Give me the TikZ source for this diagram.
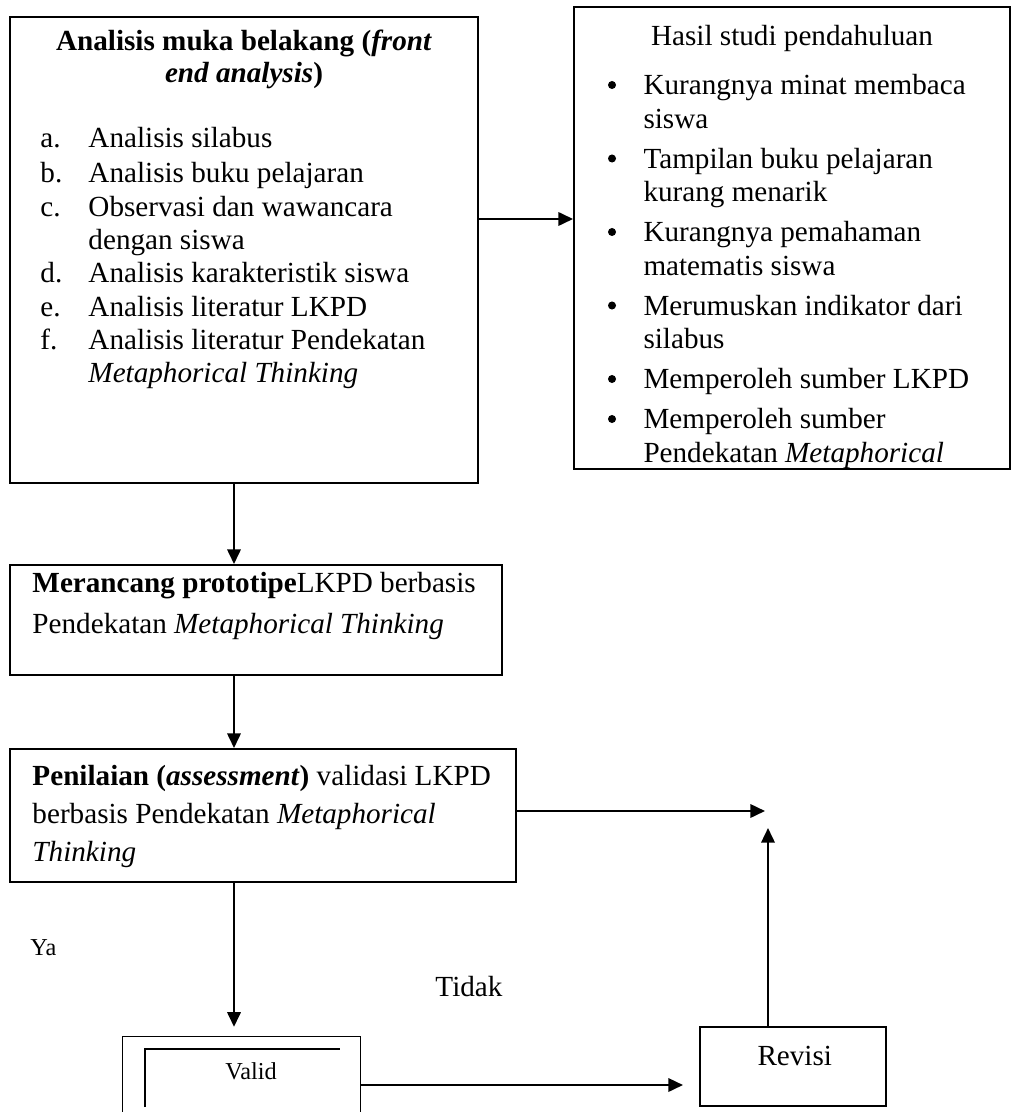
\documentclass[tikz,border=0pt]{standalone}
\usepackage{fontspec}
\setmainfont{Liberation Serif}
\usetikzlibrary{arrows.meta,fit}
\begin{document}
\begin{tikzpicture}[x=0.41152pt, y=-0.41152pt,
  box/.style={draw, line width=0.8pt, inner sep=0pt},
  hid/.style={inner sep=0pt},
  arr/.style={line width=0.9pt, -{Triangle[length=6pt,width=5.5pt]}},
  ln/.style={line width=0.8pt},
  t/.style={anchor=base west, inner sep=0pt, font=\fontsize{12}{14}\selectfont},
  tc/.style={anchor=base, inner sep=0pt, font=\fontsize{12}{14}\selectfont},
  ts/.style={anchor=base west, inner sep=0pt, font=\fontsize{10}{12}\selectfont},
  dot/.style={circle, fill, inner sep=0pt, minimum size=3.3pt}]
\useasboundingbox (0,0) rectangle (1013,1112);
% ---- boxes
\coordinate (a1) at (10,17);   \coordinate (a2) at (478,483);
\coordinate (h1) at (574,7);   \coordinate (h2) at (1010,469);
\coordinate (m1) at (10,565);  \coordinate (m2) at (502,675);
\coordinate (p1) at (10,749);  \coordinate (p2) at (516,882);
\coordinate (r1) at (700,1027);\coordinate (r2) at (886,1106);
\coordinate (v1) at (123,1037);\coordinate (v2) at (360,1112);
\node[box, fit=(a1)(a2)] (A) {};
\node[box, fit=(h1)(h2)] (H) {};
\node[box, fit=(m1)(m2)] (M) {};
\node[box, fit=(p1)(p2)] (P) {};
\node[box, fit=(r1)(r2)] (R) {};
\node[hid, fit=(v1)(v2)] (V) {};
\draw[ln] (V.south west) -- (V.north west) -- (V.north east) -- (V.south east);
\draw[ln] (145,1107) -- (145,1049) -- (340,1049);
% ---- left box text
\node[tc] (a0) at (244,51) {\textbf{Analisis muka belakang (\textit{front}}};
\node[tc] (a00) at (244,83) {\textbf{\textit{end analysis})}};
\node[t] (la) at (40,148) {a.}; \node[t] (ta) at (88,148) {Analisis silabus};
\node[t] (lb) at (40,183) {b.}; \node[t] (tb) at (88,183) {Analisis buku pelajaran};
\node[t] (lc) at (40,217) {c.}; \node[t] (tc1) at (88,217) {Observasi dan wawancara};
\node[t] (tc2) at (88,250) {dengan siswa};
\node[t] (ld) at (40,283) {d.}; \node[t] (td) at (88,283) {Analisis karakteristik siswa};
\node[t] (le) at (40,317) {e.}; \node[t] (te) at (88,317) {Analisis literatur LKPD};
\node[t] (lf) at (40,350) {f.}; \node[t] (tf1) at (88,350) {Analisis literatur Pendekatan};
\node[t] (tf2) at (88,383) {\textit{Metaphorical Thinking}};
% ---- right box text
\node[tc] (h0) at (792,46) {Hasil studi pendahuluan};
\node[dot] (b1) at (612,85) {}; \node[t] (h11) at (643,95) {Kurangnya minat membaca};
\node[t] (h12) at (643,128.5) {siswa};
\node[dot] (b2) at (612,158.5) {}; \node[t] (h21) at (643,168.5) {Tampilan buku pelajaran};
\node[t] (h22) at (643,202) {kurang menarik};
\node[dot] (b3) at (612,232) {}; \node[t] (h31) at (643,242) {Kurangnya pemahaman};
\node[t] (h32) at (643,275.5) {matematis siswa};
\node[dot] (b4) at (612,305.5) {}; \node[t] (h41) at (643,315.5) {Merumuskan indikator dari};
\node[t] (h42) at (643,349) {silabus};
\node[dot] (b5) at (612,379) {}; \node[t] (h51) at (643,389) {Memperoleh sumber LKPD};
\node[dot] (b6) at (612,419) {}; \node[t] (h61) at (643,429) {Memperoleh sumber};
\node[t] (h62) at (643,462.5) {Pendekatan \textit{Metaphorical}};
% ---- middle boxes text
\node[t] (m01) at (32,592) {\textbf{Merancang prototipe}LKPD berbasis};
\node[t] (m02) at (32,633) {Pendekatan \textit{Metaphorical Thinking}};
\node[t] (p01) at (32,785) {\textbf{Penilaian (\textit{assessment})} validasi LKPD};
\node[t] (p02) at (32,823) {berbasis Pendekatan \textit{Metaphorical}};
\node[t] (p03) at (32,861) {\textit{Thinking}};
% ---- labels
\node[ts] (ya) at (30,955) {Ya};
\node[t] (tidak) at (435,996) {Tidak};
\node[ts] (valid) at (225,1079) {Valid};
\node[t] (revisi) at (757,1065) {Revisi};
% ---- connectors
\coordinate (col) at (234,0);
\coordinate (yAH) at (0,219);
\coordinate (tipP) at (765,811);
\coordinate (tipR) at (768,828);
\coordinate (yVR) at (0,1085);
\draw[arr] (A.east |- yAH) -- (H.west |- yAH);
\draw[arr] (A.south -| col) -- (M.north -| col);
\draw[arr] (M.south -| col) -- (P.north -| col);
\draw[arr, shorten >=4pt] (P.south -| col) -- (V.north -| col);
\draw[arr] (P.east |- tipP) -- (tipP);
\draw[arr] (R.north -| tipR) -- (tipR);
\draw[arr, shorten >=6.6pt] (V.east |- yVR) -- (R.west |- yVR);
\end{tikzpicture}
\end{document}
